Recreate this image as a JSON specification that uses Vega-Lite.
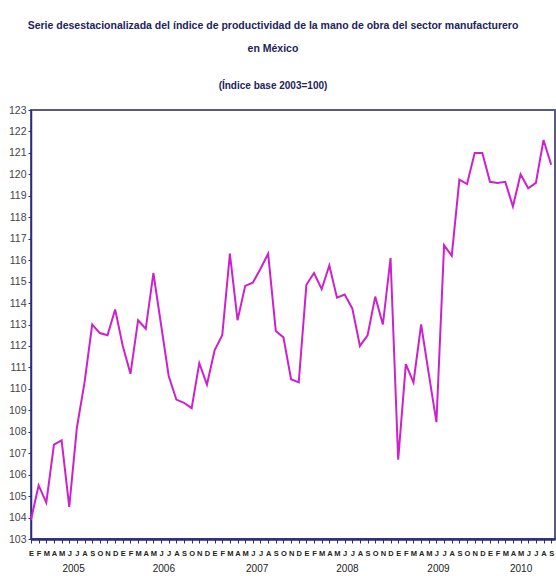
{
  "$schema": "https://vega.github.io/schema/vega-lite/v6.json",
  "width": 524,
  "height": 429,
  "autosize": {"type": "none"},
  "padding": {"left": 31, "top": 110, "right": 1, "bottom": 37},
  "background": "white",
  "title": {
    "text": ["Serie desestacionalizada del índice de productividad de la mano de obra del sector manufacturero", "en México"],
    "subtitle": "(Índice base 2003=100)",
    "anchor": "middle",
    "frame": "group",
    "dx": -20,
    "offset": 14,
    "font": "Liberation Sans, Arial, sans-serif",
    "fontSize": 10.5,
    "fontWeight": "bold",
    "lineHeight": 23,
    "color": "#23235c",
    "subtitleFont": "Liberation Sans, Arial, sans-serif",
    "subtitleFontSize": 10,
    "subtitleFontWeight": "bold",
    "subtitleColor": "#23235c",
    "subtitlePadding": 27
  },
  "config": {
    "view": {"stroke": "#5a5a80", "strokeWidth": 2},
    "axis": {"grid": false}
  },
  "data": {"values": [
    {"mes": "2005-01", "i": 0, "valor": 103.9},
    {"mes": "2005-02", "i": 1, "valor": 105.5},
    {"mes": "2005-03", "i": 2, "valor": 104.7},
    {"mes": "2005-04", "i": 3, "valor": 107.4},
    {"mes": "2005-05", "i": 4, "valor": 107.6},
    {"mes": "2005-06", "i": 5, "valor": 104.5},
    {"mes": "2005-07", "i": 6, "valor": 108.2},
    {"mes": "2005-08", "i": 7, "valor": 110.3},
    {"mes": "2005-09", "i": 8, "valor": 113.0},
    {"mes": "2005-10", "i": 9, "valor": 112.6},
    {"mes": "2005-11", "i": 10, "valor": 112.5},
    {"mes": "2005-12", "i": 11, "valor": 113.7},
    {"mes": "2006-01", "i": 12, "valor": 112.0},
    {"mes": "2006-02", "i": 13, "valor": 110.7},
    {"mes": "2006-03", "i": 14, "valor": 113.2},
    {"mes": "2006-04", "i": 15, "valor": 112.8},
    {"mes": "2006-05", "i": 16, "valor": 115.4},
    {"mes": "2006-06", "i": 17, "valor": 113.0},
    {"mes": "2006-07", "i": 18, "valor": 110.6},
    {"mes": "2006-08", "i": 19, "valor": 109.5},
    {"mes": "2006-09", "i": 20, "valor": 109.35},
    {"mes": "2006-10", "i": 21, "valor": 109.1},
    {"mes": "2006-11", "i": 22, "valor": 111.2},
    {"mes": "2006-12", "i": 23, "valor": 110.2},
    {"mes": "2007-01", "i": 24, "valor": 111.8},
    {"mes": "2007-02", "i": 25, "valor": 112.5},
    {"mes": "2007-03", "i": 26, "valor": 116.3},
    {"mes": "2007-04", "i": 27, "valor": 113.2},
    {"mes": "2007-05", "i": 28, "valor": 114.8},
    {"mes": "2007-06", "i": 29, "valor": 114.95},
    {"mes": "2007-07", "i": 30, "valor": 115.6},
    {"mes": "2007-08", "i": 31, "valor": 116.3},
    {"mes": "2007-09", "i": 32, "valor": 112.7},
    {"mes": "2007-10", "i": 33, "valor": 112.4},
    {"mes": "2007-11", "i": 34, "valor": 110.45},
    {"mes": "2007-12", "i": 35, "valor": 110.3},
    {"mes": "2008-01", "i": 36, "valor": 114.85},
    {"mes": "2008-02", "i": 37, "valor": 115.4},
    {"mes": "2008-03", "i": 38, "valor": 114.65},
    {"mes": "2008-04", "i": 39, "valor": 115.75},
    {"mes": "2008-05", "i": 40, "valor": 114.25},
    {"mes": "2008-06", "i": 41, "valor": 114.4},
    {"mes": "2008-07", "i": 42, "valor": 113.75},
    {"mes": "2008-08", "i": 43, "valor": 112.0},
    {"mes": "2008-09", "i": 44, "valor": 112.5},
    {"mes": "2008-10", "i": 45, "valor": 114.3},
    {"mes": "2008-11", "i": 46, "valor": 113.0},
    {"mes": "2008-12", "i": 47, "valor": 116.1},
    {"mes": "2009-01", "i": 48, "valor": 106.7},
    {"mes": "2009-02", "i": 49, "valor": 111.15},
    {"mes": "2009-03", "i": 50, "valor": 110.3},
    {"mes": "2009-04", "i": 51, "valor": 113.0},
    {"mes": "2009-05", "i": 52, "valor": 110.7},
    {"mes": "2009-06", "i": 53, "valor": 108.45},
    {"mes": "2009-07", "i": 54, "valor": 116.7},
    {"mes": "2009-08", "i": 55, "valor": 116.2},
    {"mes": "2009-09", "i": 56, "valor": 119.75},
    {"mes": "2009-10", "i": 57, "valor": 119.55},
    {"mes": "2009-11", "i": 58, "valor": 121.0},
    {"mes": "2009-12", "i": 59, "valor": 121.0},
    {"mes": "2010-01", "i": 60, "valor": 119.65},
    {"mes": "2010-02", "i": 61, "valor": 119.6},
    {"mes": "2010-03", "i": 62, "valor": 119.65},
    {"mes": "2010-04", "i": 63, "valor": 118.5},
    {"mes": "2010-05", "i": 64, "valor": 120.0},
    {"mes": "2010-06", "i": 65, "valor": 119.35},
    {"mes": "2010-07", "i": 66, "valor": 119.6},
    {"mes": "2010-08", "i": 67, "valor": 121.6},
    {"mes": "2010-09", "i": 68, "valor": 120.45}
  ]},
  "resolve": {"axis": {"x": "independent"}},
  "layer": [
    {
      "mark": {"type": "line", "color": "#cc22cc", "strokeWidth": 2},
      "encoding": {
        "x": {
          "field": "i", "type": "quantitative",
          "scale": {"domain": [0, 68.5], "nice": false, "zero": false},
          "axis": {
            "title": null,
            "orient": "bottom",
            "values": [0,1,2,3,4,5,6,7,8,9,10,11,12,13,14,15,16,17,18,19,20,21,22,23,24,25,26,27,28,29,30,31,32,33,34,35,36,37,38,39,40,41,42,43,44,45,46,47,48,49,50,51,52,53,54,55,56,57,58,59,60,61,62,63,64,65,66,67,68],
            "labelExpr": "['E','F','M','A','M','J','J','A','S','O','N','D'][datum.value % 12]",
            "labelFont": "Liberation Sans, Arial, sans-serif",
            "labelFontSize": 7.5,
            "labelFontWeight": "bold",
            "labelColor": "#222222",
            "labelPadding": 6,
            "labelOverlap": false,
            "labelFlush": false,
            "domainColor": "#2b2b80",
            "domainWidth": 2.5,
            "tickColor": "#2b2b80",
            "tickSize": 4,
            "tickWidth": 1
          }
        },
        "y": {
          "field": "valor", "type": "quantitative",
          "scale": {"domain": [103, 123], "nice": false, "zero": false},
          "axis": {
            "title": null,
            "values": [103,104,105,106,107,108,109,110,111,112,113,114,115,116,117,118,119,120,121,122,123],
            "labelFont": "Liberation Sans, Arial, sans-serif",
            "labelFontSize": 10.5,
            "labelColor": "#444444",
            "labelPadding": 2,
            "labelOverlap": false,
            "domainColor": "#2b2b80",
            "domainWidth": 1.5,
            "tickColor": "#2b2b80",
            "tickSize": 3
          }
        }
      }
    },
    {
      "mark": {"type": "point", "opacity": 0},
      "encoding": {
        "x": {
          "field": "i", "type": "quantitative",
          "axis": {
            "title": null,
            "orient": "bottom",
            "values": [5.5, 17.3, 29.5, 41.3, 53.2, 64],
            "labelExpr": "'' + (2005 + floor(datum.value / 12))",
            "labelFont": "Liberation Sans, Arial, sans-serif",
            "labelFontSize": 10,
            "labelColor": "#222222",
            "labelPadding": 24,
            "labelOverlap": false,
            "domain": false,
            "ticks": false
          }
        }
      }
    }
  ]
}
